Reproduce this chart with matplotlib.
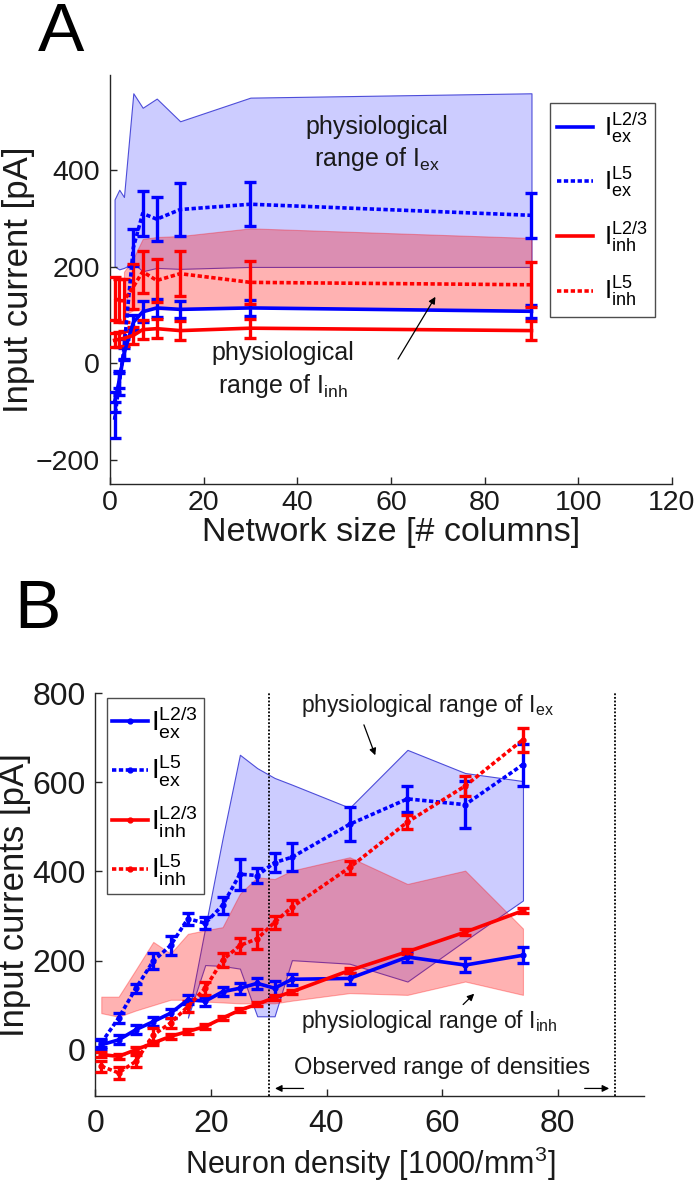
import matplotlib
matplotlib.use('Agg')
import matplotlib.pyplot as plt

plt.rcParams['font.family'] = ['Liberation Sans', 'DejaVu Sans']
plt.rcParams['mathtext.fontset'] = 'custom'
plt.rcParams['mathtext.rm'] = 'Liberation Sans'
plt.rcParams['mathtext.it'] = 'Liberation Sans'

### Panel A data: network size ###
a_cols = [1, 2, 3, 5, 7, 10, 15, 30, 90]
a_ex23 = [-80, -35, 20, 85, 107, 115, 112, 115, 108]
a_ex23_err = [20, 15, 12, 15, 22, 18, 18, 16, 14]
a_ex5 = [-117, -40, 30, 240, 311, 299, 319, 330, 307]
a_ex5_err = [37, 25, 20, 38, 47, 46, 54, 46, 46]
a_inh23 = [48, 50, 52, 58, 70, 72, 68, 73, 68]
a_inh23_err = [15, 15, 15, 18, 20, 20, 20, 20, 19]
a_inh5 = [135, 130, 130, 159, 190, 172, 186, 168, 163]
a_inh5_err = [45, 45, 45, 47, 44, 45, 47, 45, 47]

a_ex_range_x = [1, 2, 3, 5, 7, 10, 15, 30, 90]
a_ex_range_lo = [201, 195, 198, 208, 191, 198, 196, 200, 200]
a_ex_range_hi = [340, 360, 345, 560, 530, 549, 502, 551, 560]
a_inh_range_x = [3, 5, 7, 10, 15, 30, 90]
a_inh_range_lo = [100, 110, 112, 112, 112, 115, 110]
a_inh_range_hi = [190, 218, 258, 262, 264, 280, 260]

### Panel B data: neuron density ###
b_dens = [1, 4, 7, 10, 13, 16, 19, 22, 25, 28, 31, 34, 44, 54, 64, 74]
b_ex23 = [11, 22, 45, 63, 82, 112, 109, 130, 138, 149, 138, 158, 160, 208, 190, 212]
b_ex23_err = [10, 10, 10, 10, 10, 10, 10, 10, 12, 13, 17, 13, 12, 12, 15, 18]
b_ex5 = [15, 71, 138, 199, 234, 294, 284, 324, 394, 391, 420, 432, 506, 563, 550, 640]
b_ex5_err = [10, 12, 10, 17, 22, 13, 13, 19, 35, 17, 22, 32, 38, 30, 53, 47]
b_inh23 = [-11, -15, 0, 15, 30, 41, 52, 71, 89, 102, 117, 130, 178, 220, 264, 312]
b_inh23_err = [5, 5, 5, 5, 5, 5, 5, 5, 5, 5, 5, 5, 6, 6, 6, 6]
b_inh5 = [-37, -52, -26, 33, 60, 97, 138, 201, 234, 249, 286, 320, 409, 511, 592, 696]
b_inh5_err = [12, 13, 13, 15, 12, 12, 15, 15, 17, 22, 15, 15, 15, 15, 22, 27]

b_ex_range_x = [16, 19, 22, 25, 28, 31, 34, 44, 54, 64, 74]
b_ex_range_lo = [72, 190, 188, 182, 75, 75, 201, 193, 153, 245, 335]
b_ex_range_hi = [72, 274, 474, 662, 632, 610, 595, 543, 673, 621, 603]
b_inh_range_x = [1, 4, 7, 10, 13, 16, 19, 22, 25, 28, 31, 34, 44, 54, 64, 74]
b_inh_range_lo = [82, 74, 88, 100, 112, 112, 108, 106, 104, 104, 104, 110, 127, 123, 153, 123]
b_inh_range_hi = [119, 119, 180, 242, 216, 260, 268, 275, 350, 387, 383, 402, 432, 372, 402, 272]

BLUE = (0, 0, 1)
RED = (1, 0, 0)
DOT = (0, (1.2, 0.7))
AX_COL = '0.15'
TXT = '0.1'

labels = [r'$\mathregular{I^{L2/3}_{ex}}$', r'$\mathregular{I^{L5}_{ex}}$',
          r'$\mathregular{I^{L2/3}_{inh}}$', r'$\mathregular{I^{L5}_{inh}}$']
arrow = dict(arrowstyle='-|>', color='k', lw=0.9, mutation_scale=10)


def style_axes(ax, tick_fs, xpad, ypad):
    for side in ['top', 'right']:
        ax.spines[side].set_visible(False)
    for side in ['left', 'bottom']:
        ax.spines[side].set_color(AX_COL)
        ax.spines[side].set_linewidth(1.0)
    ax.tick_params(direction='in', length=5, width=1, colors=AX_COL,
                   labelsize=tick_fs, labelcolor=TXT)
    ax.tick_params(axis='x', pad=xpad)
    ax.tick_params(axis='y', pad=ypad)


def draw_series(ax, x, y, err, color, ls, marker=None):
    ax.errorbar(x, y, yerr=err, fmt='none', ecolor=color, elinewidth=2.4,
                capsize=4, capthick=2.4, zorder=4)
    line, = ax.plot(x, y, color=color, linestyle=ls, lw=2.6, marker=marker,
                    markersize=7, zorder=5)
    return line


fig = plt.figure(figsize=(7, 11.9), dpi=100)

### Panel A ###
ax = fig.add_axes([0.157, 0.5933, 0.803, 0.3437])
ax.fill_between(a_ex_range_x, a_ex_range_lo, a_ex_range_hi, facecolor=(0.8, 0.8, 1.0),
                edgecolor=(0.3, 0.3, 0.85), lw=0.8, zorder=1)
ax.fill_between(a_inh_range_x, a_inh_range_lo, a_inh_range_hi, facecolor=RED, alpha=0.3,
                edgecolor=RED, lw=0.8, zorder=2)
h1 = draw_series(ax, a_cols, a_ex23, a_ex23_err, BLUE, '-')
h2 = draw_series(ax, a_cols, a_ex5, a_ex5_err, BLUE, DOT)
h3 = draw_series(ax, a_cols, a_inh23, a_inh23_err, RED, '-')
h4 = draw_series(ax, a_cols, a_inh5, a_inh5_err, RED, DOT)
ax.set_xlim(0, 120)
ax.set_ylim(-250, 598)
ax.set_xticks([0, 20, 40, 60, 80, 100, 120])
ax.set_yticks([-200, 0, 200, 400])
style_axes(ax, 20.5, 4, 7)
ax.set_xlabel('Network size [# columns]', fontsize=24.5, color=TXT, labelpad=1)
ax.set_ylabel('Input current [pA]', fontsize=25, color=TXT, labelpad=1)
ax.text(57, 455, 'physiological\n' + r'range of $\mathregular{I_{ex}}$', fontsize=18,
        ha='center', va='center', color=TXT, linespacing=1.3, zorder=6)
ax.text(37, -15, 'physiological\n' + r'range of $\mathregular{I_{inh}}$', fontsize=18,
        ha='center', va='center', color=TXT, linespacing=1.3, zorder=6)
ax.annotate('', xy=(69.8, 143), xytext=(61.2, 4), arrowprops=arrow, zorder=6)
leg = ax.legend([h1, h2, h3, h4], labels, loc='upper right', bbox_to_anchor=(0.970, 0.9315),
                fontsize=18.5, handlelength=1.4, handletextpad=0.4, labelspacing=0.8,
                borderpad=0.3, borderaxespad=0, fancybox=False, framealpha=1)
leg.get_frame().set_edgecolor('0.3')
leg.get_frame().set_linewidth(1.0)

### Panel B ###
bx = fig.add_axes([0.1364, 0.0786, 0.784, 0.3388])
bx.fill_between(b_ex_range_x, b_ex_range_lo, b_ex_range_hi, facecolor=(0.8, 0.8, 1.0),
                edgecolor=(0.3, 0.3, 0.85), lw=0.8, zorder=1)
bx.fill_between(b_inh_range_x, b_inh_range_lo, b_inh_range_hi, facecolor=RED, alpha=0.3,
                edgecolor=RED, lw=0.8, zorder=2)
g1 = draw_series(bx, b_dens, b_ex23, b_ex23_err, BLUE, '-', '.')
g2 = draw_series(bx, b_dens, b_ex5, b_ex5_err, BLUE, DOT, '.')
g3 = draw_series(bx, b_dens, b_inh23, b_inh23_err, RED, '-', '.')
g4 = draw_series(bx, b_dens, b_inh5, b_inh5_err, RED, DOT, '.')
for xv in [30, 90]:
    bx.axvline(xv, color='k', linestyle=(0, (1, 1)), lw=1.3, zorder=3)
bx.set_xlim(0, 95)
bx.set_ylim(-105, 800)
bx.set_xticks([0, 20, 40, 60, 80])
bx.set_yticks([0, 200, 400, 600, 800])
style_axes(bx, 23, 9, 7)
bx.set_xlabel('Neuron density [1000/mm$^3$]', fontsize=22, color=TXT, labelpad=4)
bx.set_ylabel('Input currents [pA]', fontsize=25, color=TXT, labelpad=1)
bx.text(35.5, 772, r'physiological range of $\mathregular{I_{ex}}$', fontsize=16.5,
        ha='left', va='center', color=TXT, zorder=6)
bx.annotate('', xy=(48.6, 655), xytext=(46.3, 735), arrowprops=arrow, zorder=6)
bx.text(35.5, 63, r'physiological range of $\mathregular{I_{inh}}$', fontsize=16.5,
        ha='left', va='center', color=TXT, zorder=6)
bx.annotate('', xy=(65.9, 130), xytext=(63.3, 97), arrowprops=arrow, zorder=6)
bx.text(60, -40, 'Observed range of densities', fontsize=17, ha='center', va='center',
        color=TXT, zorder=6)
bx.annotate('', xy=(30.6, -87), xytext=(36.5, -87), arrowprops=arrow, zorder=6)
bx.annotate('', xy=(89.4, -87), xytext=(84.2, -87), arrowprops=arrow, zorder=6)
leg2 = bx.legend([g1, g2, g3, g4], labels, loc='upper left', bbox_to_anchor=(0.0204, 0.9876),
                 fontsize=20, handlelength=1.3, handletextpad=0.1, labelspacing=0.5,
                 borderpad=0.2, borderaxespad=0, fancybox=False, framealpha=1)
leg2.get_frame().set_edgecolor('0.3')
leg2.get_frame().set_linewidth(1.0)

fig.text(0.054, 0.999, 'A', fontsize=50, ha='left', va='top', color='k')
fig.text(0.02, 0.514, 'B', fontsize=50, ha='left', va='top', color='k')

fig.savefig('out.png', dpi=100)
